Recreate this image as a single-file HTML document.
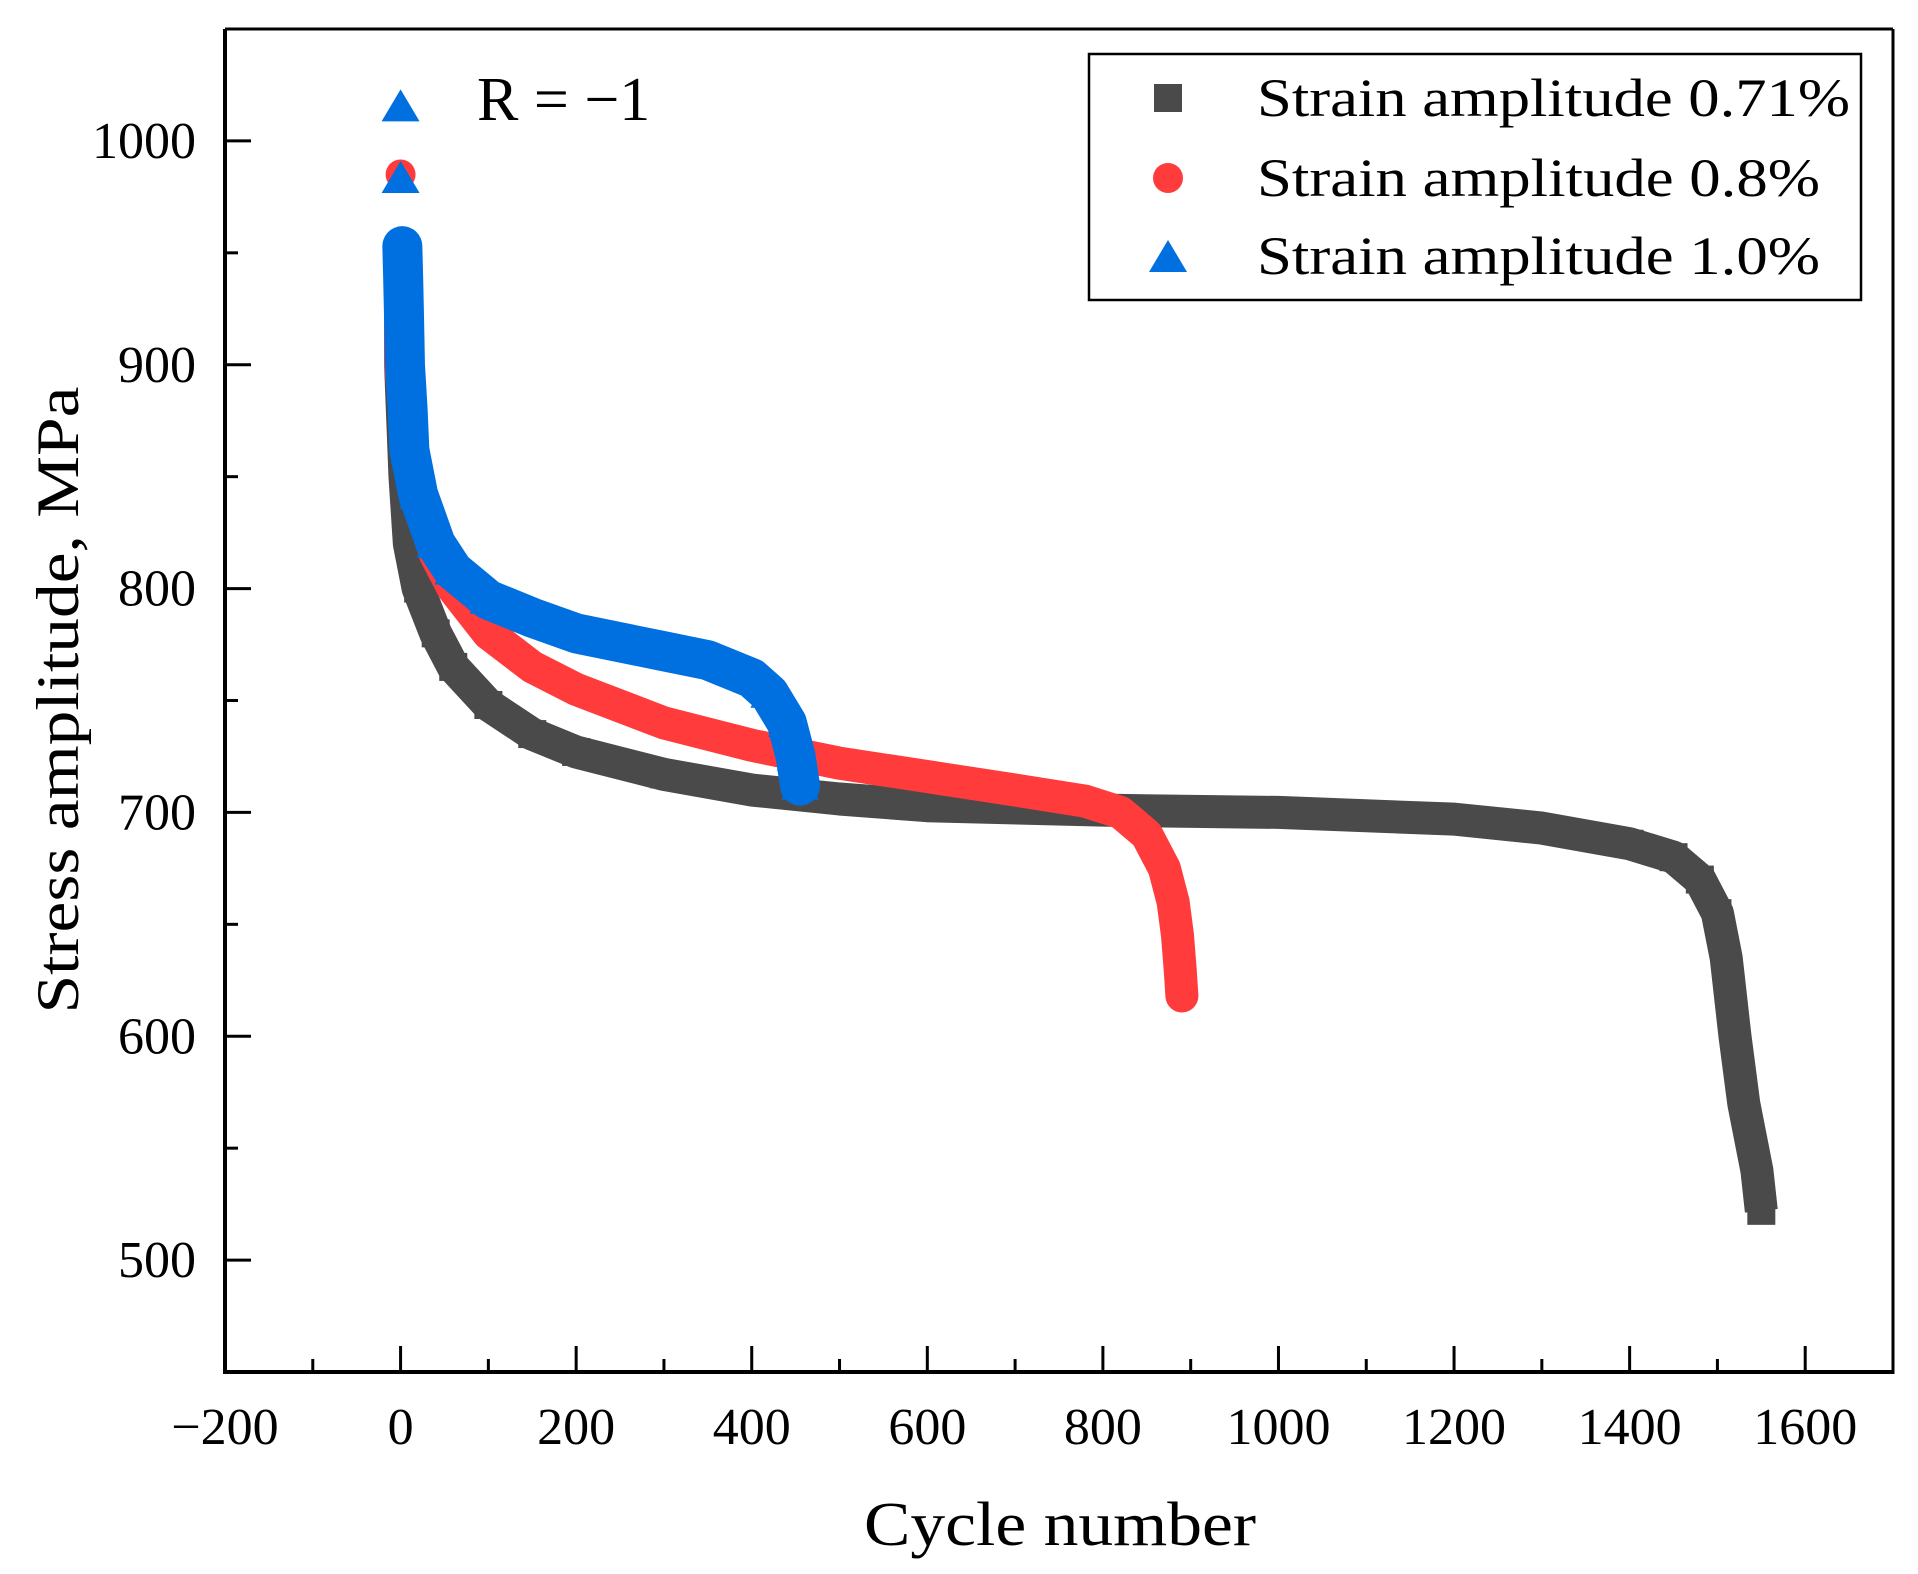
<!DOCTYPE html>
<html><head><meta charset="utf-8"><style>
body{margin:0;background:#fff}
svg{display:block;font-family:"Liberation Serif","Noto Serif CJK SC",serif}
</style></head><body>
<svg id="chart" width="1918" height="1574" viewBox="0 0 1918 1574">
<g id="marks"></g>
<g id="axes"></g>
<text x="477" y="120" font-size="62">R = −1</text>
<g>
<rect x="1089" y="54" width="772" height="246" fill="#fff" stroke="#000" stroke-width="2.5"/>
<rect x="1154" y="84" width="28" height="28" fill="#4a4a4a"/>
<text x="1257" y="116" font-size="54" textLength="593" lengthAdjust="spacingAndGlyphs">Strain amplitude 0.71%</text>
<circle cx="1168" cy="178" r="15" fill="#ff3b3b"/>
<text x="1257" y="196" font-size="54" textLength="563" lengthAdjust="spacingAndGlyphs">Strain amplitude 0.8%</text>
<polygon points="1168,240 1187,272 1149,272" fill="#0070e0"/>
<text x="1257" y="274" font-size="54" textLength="563" lengthAdjust="spacingAndGlyphs">Strain amplitude 1.0%</text>
</g>
<text transform="translate(78,700) rotate(-90)" text-anchor="middle" font-size="60" textLength="627" lengthAdjust="spacingAndGlyphs">Stress amplitude, MPa</text>
<text x="1060" y="1545" text-anchor="middle" font-size="62" textLength="392" lengthAdjust="spacingAndGlyphs">Cycle number</text>
</svg>
<script>
const xTicks=[-200,0,200,400,600,800,1000,1200,1400,1600];
const yTicks=[500,600,700,800,900,1000];
const c071=[0,0,3,5,10,20,40,60,100,150,200,300,400,500,600,800,1000,1200,1300,1400,1450,1480,1500,1510,1520,1530,1545,1550];
const v071=[945,900,870,850,820,800,780,765,748,735,727,717,710,706,703,701,700,697,693,686,680,670,655,635,600,570,540,522];
const c08=[0,0,0,5,10,20,40,60,100,150,200,300,400,500,600,700,780,820,850,870,880,885,888,890];
const v08=[985,940,900,880,860,840,815,800,780,765,755,740,730,722,716,710,705,700,690,675,660,645,630,618];
const c10=[0,0,2,3,4,5,8,10,20,40,60,100,150,200,300,350,400,420,440,450,455];
const v10=[1015,983,953,938,920,900,880,862,842,820,808,795,787,780,772,768,760,753,740,725,712];
const X0=225,X1=1893,Y0=1372,Y1=29,xmin=-200,xmax=1700,ymin=450,ymax=1050;
const sx=v=>X0+(v-xmin)/(xmax-xmin)*(X1-X0);
const sy=v=>Y0-(v-ymin)/(ymax-ymin)*(Y0-Y1);
const NS='http://www.w3.org/2000/svg';
const marks=document.getElementById('marks'),axes=document.getElementById('axes');
function mk(t,a,p){const e=document.createElementNS(NS,t);for(const k in a)e.setAttribute(k,a[k]);p.appendChild(e);return e;}
function series(cs,vs,color,shape,name,cap,skip,w){
  const g=mk('g',{},marks);
  
  
  const pts=[];for(let i=skip;i<cs.length;i++)pts.push(sx(cs[i])+','+sy(vs[i]));
  const pl=mk('polyline',{points:pts.join(' '),fill:'none',stroke:color,'stroke-width':w,'stroke-linejoin':'round','stroke-linecap':cap},g);
  
  
  for(let i=0;i<cs.length;i++){
    const x=sx(cs[i]),y=sy(vs[i]);let m;
    if(shape==='sq')m=mk('rect',{x:x-14,y:y-14,width:28,height:28,fill:color},g);
    else if(shape==='ci')m=mk('circle',{cx:x,cy:y,r:15,fill:color},g);
    else m=mk('polygon',{points:`${x},${y-18} ${x+19},${y+14} ${x-19},${y+14}`,fill:color},g);
    
    
  }
}
series(c071,v071,'#4a4a4a','sq','series-strain-071','butt',0,33);
series(c08,v08,'#ff3b3b','ci','series-strain-08','round',1,33);
series(c10,v10,'#0070e0','tri','series-strain-10','round',2,40);
// axes
const lx=mk('line',{x1:X0,y1:Y0,x2:X1,y2:Y0,stroke:'#000','stroke-width':4},axes);

const ly=mk('line',{x1:X0,y1:Y0+2,x2:X0,y2:Y1,stroke:'#000','stroke-width':4},axes);

const rr=mk('line',{x1:X1,y1:Y0+2,x2:X1,y2:Y1,stroke:'#000','stroke-width':3},axes);

const tt=mk('line',{x1:X0,y1:Y1,x2:X1,y2:Y1,stroke:'#000','stroke-width':3},axes);

for(let v=-100;v<=1700;v+=100){const major=v%200===0;
  const t=mk('line',{x1:sx(v),y1:Y0,x2:sx(v),y2:Y0-(major?26:13),stroke:'#000','stroke-width':3},axes);
  }
for(let v=500;v<=1050;v+=50){const major=v%100===0;
  const t=mk('line',{x1:X0,y1:sy(v),x2:X0+(major?26:13),y2:sy(v),stroke:'#000','stroke-width':3},axes);
  }
xTicks.forEach(v=>{const t=mk('text',{x:sx(v),y:1444,'text-anchor':'middle','font-size':52},axes);
  t.textContent=v<0?'−'+(-v):String(v);
  });
yTicks.forEach(v=>{const t=mk('text',{x:196,y:sy(v)+17,'text-anchor':'end','font-size':52},axes);
  t.textContent=String(v);
  });
</script>
</body></html>
